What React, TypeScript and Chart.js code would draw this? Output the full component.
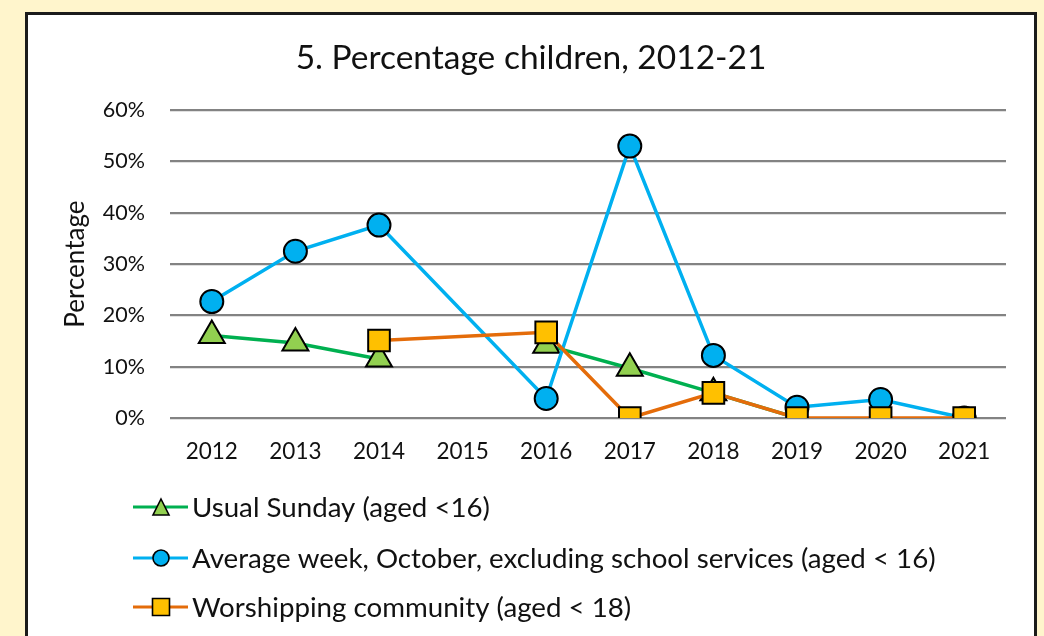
import React, { useEffect, useRef } from "react";
import { Chart, registerables } from "chart.js";

Chart.register(...registerables);

const years = ["2012", "2013", "2014", "2015", "2016", "2017", "2018", "2019", "2020", "2021"];
const usualSunday = [16.1, 14.6, 11.5, null, 14.2, 9.7, 4.9, 0, null, null];
const averageWeek = [22.7, 32.5, 37.6, null, 3.8, 53.0, 12.2, 2.1, 3.6, 0];
const worshipping = [null, null, 15.1, null, 16.7, 0, 4.9, 0, 0, 0];
const yTicks = [0, 10, 20, 30, 40, 50, 60];

const seriesLabels = [
  "Usual Sunday (aged <16)",
  "Average week, October, excluding school services (aged < 16)",
  "Worshipping community (aged < 18)",
];

const FONT = "Lato, 'Open Sans', sans-serif";

const GREEN = "#00B050";
const GREEN_FILL = "#92D050";
const BLUE = "#00B0F0";
const ORANGE = "#E46C0A";
const YELLOW = "#FFC000";

function drawMarker(ctx: CanvasRenderingContext2D, style: string, x: number, y: number, size: number, fill: string) {
  ctx.save();
  ctx.fillStyle = fill;
  ctx.strokeStyle = "#000";
  ctx.lineWidth = 1.6;
  ctx.beginPath();
  if (style === "circle") {
    ctx.arc(x, y, size / 2, 0, Math.PI * 2);
  } else if (style === "triangle") {
    ctx.moveTo(x, y - size / 2);
    ctx.lineTo(x + size / 2, y + size / 2);
    ctx.lineTo(x - size / 2, y + size / 2);
    ctx.closePath();
  } else {
    ctx.rect(x - size / 2, y - size / 2, size, size);
  }
  ctx.fill();
  ctx.stroke();
  ctx.restore();
}

const legendPlugin = {
  id: "customLegend",
  afterDraw(chart: any) {
    const ctx = chart.ctx as CanvasRenderingContext2D;
    const rows = [492, 543, 592];
    const styles = ["triangle", "circle", "rect"];
    const fills = [GREEN_FILL, BLUE, YELLOW];
    const lines = [GREEN, BLUE, ORANGE];
    const sizes = [16, 16, 17];
    ctx.save();
    seriesLabels.forEach((label, i) => {
      const y = rows[i];
      ctx.strokeStyle = lines[i];
      ctx.lineWidth = 3;
      ctx.beginPath();
      ctx.moveTo(105, y);
      ctx.lineTo(160, y);
      ctx.stroke();
      drawMarker(ctx, styles[i], 133, y, sizes[i], fills[i]);
      ctx.fillStyle = "#111";
      ctx.font = `27.7px ${FONT}`;
      ctx.textBaseline = "middle";
      ctx.textAlign = "left";
      ctx.fillText(label, 164, y + 1);
    });
    ctx.restore();
  },
};

export default function App() {
  const ref = useRef<HTMLCanvasElement | null>(null);

  useEffect(() => {
    if (!ref.current) return;
    const chart = new Chart(ref.current, {
      type: "line",
      data: {
        labels: years,
        datasets: [
          {
            label: seriesLabels[0],
            data: usualSunday,
            borderColor: GREEN,
            backgroundColor: GREEN_FILL,
            pointBackgroundColor: GREEN_FILL,
            pointBorderColor: "#000",
            pointBorderWidth: 2,
            pointStyle: "triangle",
            pointRadius: 15,
            borderWidth: 3.5,
            spanGaps: false,
            order: 3,
          },
          {
            label: seriesLabels[1],
            data: averageWeek,
            borderColor: BLUE,
            backgroundColor: BLUE,
            pointBackgroundColor: BLUE,
            pointBorderColor: "#000",
            pointBorderWidth: 2,
            pointStyle: "circle",
            pointRadius: 11.5,
            borderWidth: 3.5,
            spanGaps: true,
            order: 2,
          },
          {
            label: seriesLabels[2],
            data: worshipping,
            borderColor: ORANGE,
            backgroundColor: YELLOW,
            pointBackgroundColor: YELLOW,
            pointBorderColor: "#000",
            pointBorderWidth: 2,
            pointStyle: "rect",
            pointRadius: 15.3,
            borderWidth: 3.5,
            spanGaps: true,
            order: 1,
          },
        ],
      },
      options: {
        animation: false,
        responsive: false,
        maintainAspectRatio: false,
        layout: { padding: { left: 28, right: 28, top: 0, bottom: 0 } },
        plugins: {
          legend: { display: false },
          tooltip: { enabled: false },
          title: {
            display: true,
            text: "5. Percentage children, 2012-21",
            color: "#111",
            font: { family: FONT, size: 33.5, weight: "normal" },
            padding: { top: 23, bottom: 32 },
          },
        },
        scales: {
          x: {
            offset: true,
            grid: { display: false, drawTicks: false },
            border: { display: false },
            ticks: {
              color: "#111",
              font: { family: FONT, size: 22.5 },
              padding: 20,
              maxRotation: 0,
              autoSkip: false,
            },
            afterFit: (scale: any) => {
              scale.height = 218;
            },
          },
          y: {
            min: 0,
            max: 60,
            afterBuildTicks: (scale: any) => {
              scale.ticks = yTicks.map((v) => ({ value: v }));
            },
            grid: { color: "#838383", lineWidth: 2.2, drawTicks: false },
            border: { display: false },
            ticks: {
              color: "#111",
              font: { family: FONT, size: 21.5 },
              padding: 25,
              callback: (v: any) => `${v}%`,
            },
            title: {
              display: true,
              text: "Percentage",
              color: "#111",
              font: { family: FONT, size: 26 },
              padding: { top: 4, bottom: 0 },
            },
            afterFit: (scale: any) => {
              scale.width = 114;
            },
          },
        },
      },
      plugins: [legendPlugin],
    });
    return () => chart.destroy();
  }, []);

  return (
    <div style={{ position: "fixed", inset: 0, background: "#FFF5CC", overflow: "hidden" }}>
      <div
        style={{
          position: "absolute",
          left: 25,
          top: 12,
          width: 1012,
          height: 700,
          border: "3px solid #1b1b1b",
          boxSizing: "border-box",
          background: "#fff",
        }}
      >
        <canvas
          ref={ref}
          width={1006}
          height={621}
          style={{ position: "absolute", left: 0, top: 0, width: 1006, height: 621 }}
        />
      </div>
    </div>
  );
}
